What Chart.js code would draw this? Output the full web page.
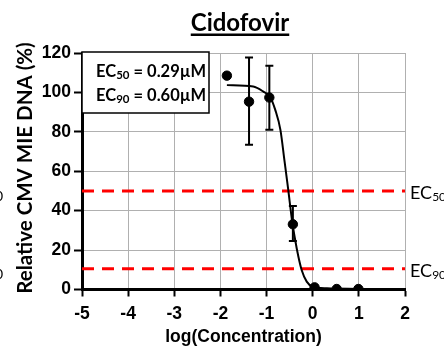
<!DOCTYPE html>
<html>
<head>
<meta charset="utf-8">
<script src="https://cdn.jsdelivr.net/npm/chart.js@4"></script>
<style>
  html, body { margin: 0; padding: 0; background: #fff; }
  #wrap { width: 444px; height: 348px; position: relative; }
</style>
</head>
<body>
<div id="wrap"><canvas id="ecChart"></canvas></div>
<script>
// measured points (log concentration vs % DNA)
const logConc = [-1.86, -1.38, -0.94, -0.43, 0.04, 0.52, 0.99];
const dnaPct = [108.5, 95.3, 97.4, 33.1, 1.1, 0.25, 0.25];
const errLow = [null, 73.4, 81.0, 24.6, null, null, null];
const errHigh = [null, 117.7, 113.5, 42.4, null, null, null];

// fitted curve
const fitX = [-1.86, -1.29, -1.07, -0.92, -0.81, -0.70, -0.61, -0.56, -0.53, -0.45, -0.38, -0.31, -0.24, -0.13, 0.0, 0.31, 1.0];
const fitY = [103.7, 103.0, 100.4, 97.6, 91.0, 81.0, 65.0, 56.0, 50.5, 35.3, 25.1, 16.6, 9.9, 4.0, 1.4, 0.6, 0.3];

// reference lines
const ec50Level = 50;
const ec90Level = 10.5;
const xRange = [-5, 2];
const yRange = [0, 120];
const xTicks = [-5, -4, -3, -2, -1, 0, 1, 2];
const yTicks = [0, 20, 40, 60, 80, 100, 120];

const titleText = 'Cidofovir';
const xTitle = 'log(Concentration)';
const yTitle = 'Relative CMV MIE DNA (%)';
const ec50Value = ' = 0.29µM';
const ec90Value = ' = 0.60µM';

const boldArial = '"Liberation Sans", Arial, sans-serif';
const calib = 'Lato, "Open Sans", sans-serif';

const pts = logConc.map((x, i) => ({ x: x, y: dnaPct[i] }));
const fit = fitX.map((x, i) => ({ x: x, y: fitY[i] }));

function drawEC(ctx, x, y, sub, rest, size, subSize, weight) {
    ctx.textBaseline = 'alphabetic';
    ctx.textAlign = 'left';
    ctx.font = weight + ' ' + size + 'px ' + calib;
    ctx.fillText('EC', x, y);
    let w = ctx.measureText('EC').width;
    ctx.font = weight + ' ' + subSize + 'px ' + calib;
    ctx.fillText(sub, x + w, y + size * 0.12);
    w += ctx.measureText(sub).width;
    if (rest) {
        ctx.font = weight + ' ' + size + 'px ' + calib;
        ctx.fillText(rest, x + w, y);
    }
}

const errorBars = {
    id: 'errorBars',
    afterDatasetsDraw(chart) {
        const ctx = chart.ctx;
        const xs = chart.scales.x, ys = chart.scales.y;
        ctx.save();
        ctx.strokeStyle = '#000';
        ctx.lineWidth = 2;
        logConc.forEach((x, i) => {
            if (errLow[i] == null) return;
            const px = xs.getPixelForValue(x);
            const top = ys.getPixelForValue(errHigh[i]);
            const bot = ys.getPixelForValue(errLow[i]);
            ctx.beginPath();
            ctx.moveTo(px, top); ctx.lineTo(px, bot);
            ctx.moveTo(px - 4, top); ctx.lineTo(px + 4, top);
            ctx.moveTo(px - 4, bot); ctx.lineTo(px + 4, bot);
            ctx.stroke();
        });
        ctx.restore();
    }
};

const decorations = {
    id: 'decorations',
    beforeDraw(chart) {
        const ctx = chart.ctx;
        ctx.save();
        ctx.fillStyle = '#fff';
        ctx.fillRect(0, 0, chart.width, chart.height);
        ctx.restore();
    },
    afterDraw(chart) {
        const ctx = chart.ctx;
        const area = chart.chartArea;
        const ys = chart.scales.y;
        ctx.save();
        ctx.fillStyle = '#000';

        // title, underlined
        ctx.font = 'bold 24px ' + calib;
        ctx.textAlign = 'center';
        ctx.textBaseline = 'alphabetic';
        const cx = 240;
        ctx.fillText(titleText, cx, 31);
        const tw = ctx.measureText(titleText).width;
        ctx.fillRect(cx - tw / 2, 33.5, tw, 2.5);

        // axis titles
        ctx.font = 'bold 17.5px ' + boldArial;
        ctx.textBaseline = 'middle';
        ctx.fillText(xTitle, (area.left + area.right) / 2, 337);
        ctx.save();
        ctx.translate(25, 168);
        ctx.rotate(-Math.PI / 2);
        ctx.font = 'bold 20.5px ' + calib;
        ctx.fillText(yTitle, 0, 0);
        ctx.restore();

        // EC box
        ctx.fillStyle = '#fff';
        ctx.fillRect(area.left, area.top - 1, 127, 61);
        ctx.strokeStyle = '#000';
        ctx.lineWidth = 1.5;
        ctx.strokeRect(area.left, area.top - 1, 127, 61);
        ctx.fillStyle = '#000';
        drawEC(ctx, 96, 77, '50', ec50Value, 16.5, 11.5, 'bold');
        drawEC(ctx, 96, 101, '90', ec90Value, 16.5, 11.5, 'bold');

        // labels at the reference lines
        drawEC(ctx, 410, ys.getPixelForValue(ec50Level) + 8, '50', '', 18, 12, 'normal');
        drawEC(ctx, 410, ys.getPixelForValue(ec90Level) + 8, '90', '', 18, 12, 'normal');
        // clipped subscripts from the neighbouring panel
        ctx.font = 'normal 14px ' + calib;
        ctx.textAlign = 'left';
        ctx.fillText('0', -5, ys.getPixelForValue(ec50Level) + 10);
        ctx.fillText('0', -5, ys.getPixelForValue(ec90Level) + 10);
        ctx.restore();
    }
};

const ctx = document.getElementById('ecChart').getContext('2d');
const ecChart = new Chart(ctx, {
    type: 'scatter',
    data: {
        datasets: [
            {
                label: 'EC50',
                data: [{ x: xRange[0], y: ec50Level }, { x: xRange[1], y: ec50Level }],
                showLine: true,
                borderColor: '#ff0000',
                borderWidth: 3,
                borderDash: [12, 8],
                pointRadius: 0,
                order: 3
            },
            {
                label: 'EC90',
                data: [{ x: xRange[0], y: ec90Level }, { x: xRange[1], y: ec90Level }],
                showLine: true,
                borderColor: '#ff0000',
                borderWidth: 3,
                borderDash: [12, 8],
                pointRadius: 0,
                order: 3
            },
            {
                label: 'Fit',
                data: fit,
                showLine: true,
                borderColor: '#000',
                borderWidth: 2,
                cubicInterpolationMode: 'monotone',
                pointRadius: 0,
                order: 2
            },
            {
                label: 'Data',
                data: pts,
                showLine: false,
                pointRadius: 4.7,
                pointBackgroundColor: '#000',
                pointBorderColor: '#000',
                order: 1
            }
        ]
    },
    options: {
        responsive: true,
        maintainAspectRatio: false,
        animation: false,
        layout: { padding: { left: 0, right: 39, top: 53, bottom: 0 } },
        plugins: {
            legend: { display: false },
            tooltip: { enabled: false }
        },
        scales: {
            x: {
                type: 'linear',
                min: xRange[0],
                max: xRange[1],
                afterBuildTicks: (s) => { s.ticks = xTicks.map(v => ({ value: v })); },
                afterFit: (s) => { s.height = 58.5; },
                border: { color: '#000', width: 3 },
                grid: {
                    color: '#b0b0b0',
                    borderDash: [2, 2],
                    lineWidth: 1,
                    tickLength: 7,
                    tickColor: '#000',
                    tickWidth: 2,
                    tickBorderDash: []
                },
                ticks: {
                    color: '#000',
                    padding: 7,
                    font: { family: boldArial, size: 17.5, weight: 'bold' }
                }
            },
            y: {
                min: yRange[0],
                max: yRange[1],
                afterBuildTicks: (s) => { s.ticks = yTicks.map(v => ({ value: v })); },
                afterFit: (s) => { s.width = 82; },
                border: { color: '#000', width: 3 },
                grid: {
                    color: '#b0b0b0',
                    borderDash: [2, 2],
                    lineWidth: 1,
                    tickLength: 8,
                    tickColor: '#000',
                    tickWidth: 2,
                    tickBorderDash: []
                },
                ticks: {
                    color: '#000',
                    padding: 3,
                    font: { family: boldArial, size: 17.5, weight: 'bold' }
                }
            }
        }
    },
    plugins: [errorBars, decorations]
});
</script>
</body>
</html>
